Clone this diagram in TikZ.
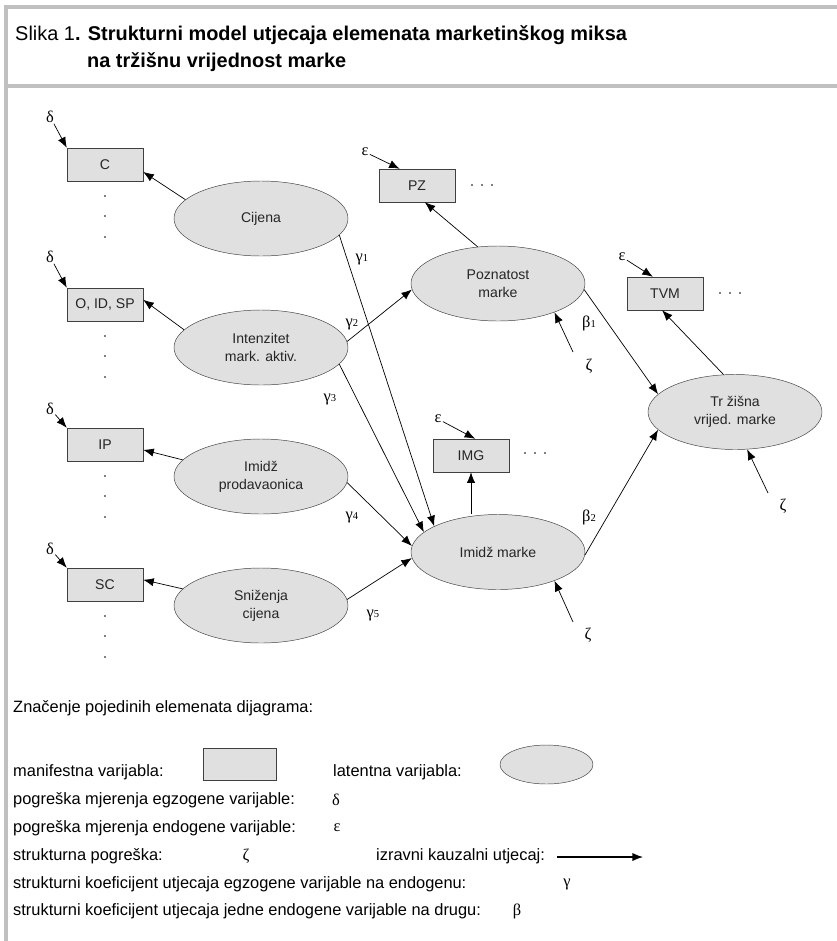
\documentclass[tikz,border=0pt]{standalone}
\usepackage{fontspec}
\setmainfont{Liberation Sans}
\newfontfamily\grkfont{Liberation Serif}
\usetikzlibrary{shapes.geometric,arrows.meta}
\definecolor{varfill}{RGB}{224,224,224}
\definecolor{varline}{RGB}{64,64,64}
\definecolor{framegray}{RGB}{192,192,192}

\begin{document}
\begin{tikzpicture}[x=0.03cm,y=-0.03cm,
    manvar/.style={draw=varline,fill=varfill,minimum width=2.28cm,minimum height=0.99cm,inner sep=0pt,text=black!85,font=\fontsize{12}{15}\selectfont},
    latvar/.style={draw=varline,fill=varfill,ellipse,minimum width=5.22cm,minimum height=2.25cm,inner sep=0pt,align=center,text=black!85,font=\fontsize{12}{15.3}\selectfont},
    err/.style={inner sep=1pt,font=\grkfont\fontsize{14}{14}\selectfont},
    legtext/.style={anchor=west,inner sep=0pt,font=\fontsize{14}{16}\selectfont},
    arr/.style={-{Latex[length=9pt,width=7pt]},line width=0.6pt}]
    \useasboundingbox (0,0) rectangle (837,941);
    % frame and caption
    \draw[framegray,line width=2.6pt] (837,7)--(6,7)--(6,941);
    \draw[framegray,line width=2.6pt] (6,86)--(837,86);
    \node (title1)[anchor=west,inner sep=0pt,font=\fontsize{17}{20}\selectfont] at (15,35)
        {Slika 1\textbf{. Strukturni model utjecaja elemenata marketinškog miksa}};
    \node (title2)[anchor=west,inner sep=0pt,font=\fontsize{17}{20}\selectfont] at (87,62)
        {\textbf{na tržišnu vrijednost marke}};

    % manifest variables
    \node (C)[manvar] at (105,164.5) {C};
    \node (OIDSP)[manvar] at (105,304.5) {O, ID, SP};
    \node (IP)[manvar] at (105,444.5) {IP};
    \node (SC)[manvar] at (105,584.5) {SC};
    \node (PZ)[manvar] at (417,185.5) {PZ};
    \node (TVM)[manvar] at (665,293.5) {TVM};
    \node (IMG)[manvar] at (471,455.5) {IMG};

    % latent variables
    \node (cijena)[latvar] at (261,218.5) {Cijena};
    \node (intenzitet)[latvar] at (261,347.5) {Intenzitet\\mark. aktiv.};
    \node (prodavaonica)[latvar] at (261,476.5) {Imidž\\prodavaonica};
    \node (snizenja)[latvar] at (261,605.5) {Sniženja\\cijena};
    \node (poznatost)[latvar] at (498,283.5) {Poznatost\\marke};
    \node (imidz)[latvar] at (498,552) {Imidž marke};
    \node (trzisna)[latvar] at (735,412) {Tr žišna\\vrijed. marke};

    % dots
    \foreach \y in {181,321,461,601}
        \foreach \d in {15,35,56}
            \fill (105,\y+\d) circle[radius=0.8pt];
    \foreach \x/\y in {472/185,720/293,525/453}
        \foreach \k in {0,10,20}
            \fill (\x+\k,\y) circle[radius=0.8pt];

    % measurement errors
    \node (d1)[err] at (50,116.5) {δ};
    \node (d2)[err] at (50,256.5) {δ};
    \node (d3)[err] at (50,408.5) {δ};
    \node (d4)[err] at (50,548.5) {δ};
    \draw[arr] (d1)--(C.north west);
    \draw[arr] (d2)--(OIDSP.north west);
    \draw[arr] (d3)--(IP.north west);
    \draw[arr] (d4)--(SC.north west);
    \node (e1)[err] at (365,152) {ε};
    \node (e2)[err] at (622,257) {ε};
    \node (e3)[err] at (438,419) {ε};
    \draw[arr] (e1)--(PZ.136);
    \draw[arr] (e2)--(TVM.126);
    \draw[arr] (e3)--(IMG.76);

    % structural errors
    \node (z1)[err] at (589,366) {ζ};
    \node (z2)[err] at (588,635) {ζ};
    \node (z3)[err] at (783,506) {ζ};
    \coordinate (z1s) at (573,352);
    \coordinate (z2s) at (573,622);
    \coordinate (z3s) at (768,493);
    \draw[arr] (z1s)--(poznatost.-27);
    \draw[arr] (z2s)--(imidz.-27);
    \draw[arr] (z3s)--(trzisna.-72);

    % loadings
    \draw[arr] (cijena.166)--(C.-11);
    \draw[arr] (intenzitet.167)--(OIDSP.7);
    \draw[arr] (prodavaonica.168)--(IP.-8);
    \draw[arr] (snizenja.168)--(SC.7);
    \draw[arr] (poznatost.119)--(PZ.-65);
    \draw[arr] (imidz.north -| IMG.south)--(IMG.south);
    \draw[arr] (trzisna.107)--(TVM.-100);

    % structural paths
    \draw[arr] (cijena.-12)--(imidz.158);
    \draw[arr] (intenzitet.4)--(poznatost.184);
    \draw[arr] (intenzitet.-12)--(imidz.165);
    \draw[arr] (prodavaonica.-4)--(imidz.176);
    \draw[arr] (snizenja.4)--(imidz.184);
    \draw[arr] (poznatost.-4)--(trzisna.167);
    \draw[arr] (imidz.-2)--(trzisna.193);
    \node (g1)[err] at (362,259) {γ{\fontsize{9}{9}\selectfont 1}};
    \node (g2)[err] at (352,324) {γ{\fontsize{9}{9}\selectfont 2}};
    \node (g3)[err] at (330,399) {γ{\fontsize{9}{9}\selectfont 3}};
    \node (g4)[err] at (352,517) {γ{\fontsize{9}{9}\selectfont 4}};
    \node (g5)[err] at (373,615) {γ{\fontsize{9}{9}\selectfont 5}};
    \node (b1)[err] at (589,323) {β{\fontsize{9}{9}\selectfont 1}};
    \node (b2)[err] at (589,517) {β{\fontsize{9}{9}\selectfont 2}};

    % legend
    \node (legtitle)[legtext] at (13,708) {Značenje pojedinih elemenata dijagrama:};
    \node (lman)[legtext] at (13,772) {manifestna varijabla:};
    \node (lmanbox)[manvar,minimum width=2.19cm,minimum height=0.96cm] at (239.5,764) {};
    \node (llat)[legtext] at (333,772) {latentna varijabla:};
    \node (llatell)[latvar,minimum width=2.79cm,minimum height=1.17cm] at (546.5,764.5) {};
    \node (lexo)[legtext] at (13,800) {pogreška mjerenja egzogene varijable:};
    \node (lexosym)[err] at (336,800) {δ};
    \node (lendo)[legtext] at (13,828) {pogreška mjerenja endogene varijable:};
    \node (lendosym)[err] at (337,828) {ε};
    \node (lstr)[legtext] at (13,856) {strukturna pogreška:};
    \node (lstrsym)[err] at (246,856) {ζ};
    \node (lkauz)[legtext] at (376,856) {izravni kauzalni utjecaj:};
    \coordinate (larrs) at (557,857);
    \coordinate (larre) at (643,857);
    \draw[arr,line width=1pt] (larrs)--(larre);
    \node (lgamma)[legtext] at (13,884) {strukturni koeficijent utjecaja egzogene varijable na endogenu:};
    \node (lgammasym)[err] at (567,884) {γ};
    \node (lbeta)[legtext] at (13,911) {strukturni koeficijent utjecaja jedne endogene varijable na drugu:};
    \node (lbetasym)[err] at (517,911) {β};
\end{tikzpicture}
\end{document}
